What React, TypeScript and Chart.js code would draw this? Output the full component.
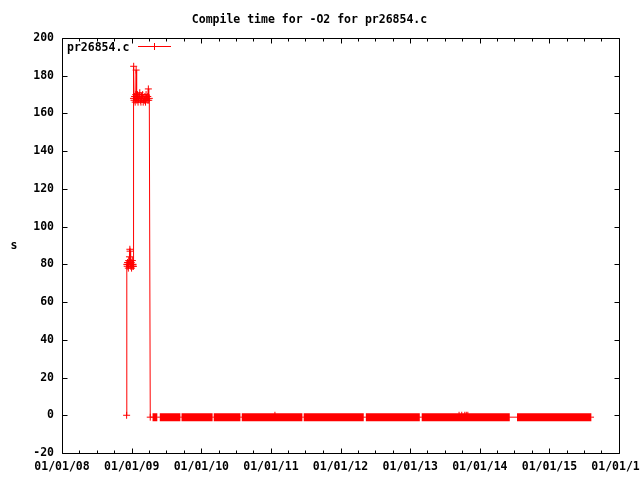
import { useEffect, useRef } from 'react';
import { Chart, registerables } from 'chart.js';

Chart.register(...registerables);

const FONT_FAMILY = '"DejaVu Sans Mono", monospace';
const FONT_SIZE = 11.5;
const RED = '#ff0000';

const chartTitle = 'Compile time for -O2 for pr26854.c';
const seriesLabel = 'pr26854.c';
const yAxisLabel = 's';

const xTickDates = ['2008-01-01', '2009-01-01', '2010-01-01', '2011-01-01', '2012-01-01', '2013-01-01', '2014-01-01', '2015-01-01', '2016-01-01'];
const xTickLabels = ['01/01/08', '01/01/09', '01/01/10', '01/01/11', '01/01/12', '01/01/13', '01/01/14', '01/01/15', '01/01/16'];
const yTickValues = [-20, 0, 20, 40, 60, 80, 100, 120, 140, 160, 180, 200];

// early measurements (late 2008 - spring 2009)
const earlyDates = [
  '2008-12-05', '2008-12-06', '2008-12-08', '2008-12-10', '2008-12-12', '2008-12-14', '2008-12-16', '2008-12-18',
  '2008-12-20', '2008-12-22', '2008-12-23', '2008-12-25', '2008-12-27', '2008-12-29', '2008-12-31', '2009-01-02',
  '2009-01-04', '2009-01-06', '2009-01-08', '2009-01-10', '2009-01-10', '2009-01-11', '2009-01-13', '2009-01-16',
  '2009-01-19', '2009-01-22', '2009-01-24', '2009-01-25', '2009-01-28', '2009-01-31', '2009-02-03', '2009-02-06',
  '2009-02-09', '2009-02-12', '2009-02-15', '2009-02-18', '2009-02-21', '2009-02-24', '2009-02-27', '2009-03-02',
  '2009-03-05', '2009-03-08', '2009-03-11', '2009-03-14', '2009-03-17', '2009-03-20', '2009-03-23', '2009-03-26',
  '2009-03-29', '2009-03-31', '2009-04-03', '2009-04-08',
];
const earlyValues = [
  0, 80, 79, 81, 80, 78, 82, 80,
  84, 88, 87, 80, 79, 81, 78, 80,
  82, 79, 80, 79, 168, 185, 167, 169,
  166, 170, 183, 168, 167, 170, 166, 169,
  168, 171, 167, 166, 169, 168, 170, 166,
  168, 167, 169, 166, 170, 168, 167, 169,
  173, 167, 168, -1,
];

// dense daily runs (drawn as a solid band)
const runStartDates = ['2009-04-20', '2009-05-28', '2009-09-19', '2010-03-07', '2010-08-01', '2011-06-22', '2012-05-13', '2013-03-02', '2014-07-15'];
const runEndDates = ['2009-05-15', '2009-09-13', '2010-03-01', '2010-07-25', '2011-06-15', '2012-05-02', '2013-02-20', '2014-06-07', '2015-08-09'];
const runValues = [-1, -1, -1, -1, -1, -1, -1, -1, -1];

// isolated points that stand out of the band
const spikeDates = ['2011-01-22', '2013-09-14', '2013-09-28', '2013-10-14', '2013-10-22', '2013-10-30'];
const spikeValues = [0, 0, 0, 0, 0, 0];

const lastDates = ['2015-08-23'];
const lastValues = [-1];

const toMs = (s: string) => {
  const [y, m, dd] = s.split('-').map(Number);
  return Date.UTC(y, m - 1, dd);
};

type Pt = { x: number; y: number | null };

function buildMain() {
  const pts: Pt[] = [];
  const radii: number[] = [];
  earlyDates.forEach((s, i) => {
    pts.push({ x: toMs(s), y: earlyValues[i] });
    radii.push(3.5);
  });
  runStartDates.forEach((s, i) => {
    const a = toMs(s);
    const b = toMs(runEndDates[i]);
    pts.push({ x: a, y: runValues[i] });
    radii.push(0);
    spikeDates.forEach((sd, j) => {
      const t = toMs(sd);
      if (t > a && t < b) {
        pts.push({ x: t, y: spikeValues[j] });
        radii.push(3.5);
      }
    });
    pts.push({ x: b, y: runValues[i] });
    radii.push(0);
  });
  lastDates.forEach((s, i) => {
    pts.push({ x: toMs(s), y: lastValues[i] });
    radii.push(0);
  });
  return { pts, radii };
}

function buildBand() {
  const pts: Pt[] = [];
  runStartDates.forEach((s, i) => {
    const a = toMs(s);
    const b = toMs(runEndDates[i]);
    pts.push({ x: a, y: runValues[i] });
    pts.push({ x: b, y: runValues[i] });
    pts.push({ x: b + 1, y: null });
  });
  return pts;
}

const font = { family: FONT_FAMILY, size: FONT_SIZE, weight: 'bold' as const };

const framePlugin = {
  id: 'gnuFrame',
  afterDraw(chart: any) {
    const { ctx, chartArea: a, scales } = chart;
    const xs = scales.x;
    const ys = scales.y;
    const L = Math.round(a.left) + 0.5;
    const R = Math.round(a.right) + 0.5;
    const T = Math.round(a.top) + 0.5;
    const B = Math.round(a.bottom) + 0.5;
    ctx.save();
    ctx.strokeStyle = '#000';
    ctx.lineWidth = 1;
    ctx.beginPath();
    ctx.rect(L, T, R - L, B - T);
    // y ticks (inward, mirrored)
    yTickValues.forEach((v) => {
      const p = Math.round(ys.getPixelForValue(v)) + 0.5;
      ctx.moveTo(L, p); ctx.lineTo(L + 5, p);
      ctx.moveTo(R, p); ctx.lineTo(R - 5, p);
    });
    // x major ticks
    xTickDates.forEach((s) => {
      const p = Math.round(xs.getPixelForValue(toMs(s))) + 0.5;
      ctx.moveTo(p, B); ctx.lineTo(p, B - 5);
      ctx.moveTo(p, T); ctx.lineTo(p, T + 5);
    });
    // x minor ticks (quarters)
    for (let yr = 2008; yr < 2016; yr++) {
      [3, 6, 9].forEach((m) => {
        const p = Math.round(xs.getPixelForValue(Date.UTC(yr, m, 1))) + 0.5;
        ctx.moveTo(p, B); ctx.lineTo(p, B - 3);
        ctx.moveTo(p, T); ctx.lineTo(p, T + 3);
      });
    }
    ctx.stroke();

    // key (top-left, inside)
    ctx.fillStyle = '#000';
    ctx.font = `bold ${FONT_SIZE}px ${FONT_FAMILY}`;
    ctx.textAlign = 'left';
    ctx.textBaseline = 'middle';
    ctx.fillText(chart.data.datasets[0].label, a.left + 5, a.top + 10);
    ctx.strokeStyle = RED;
    ctx.beginPath();
    ctx.moveTo(a.left + 76, a.top + 8.5);
    ctx.lineTo(a.left + 109, a.top + 8.5);
    ctx.moveTo(a.left + 92.5, a.top + 5);
    ctx.lineTo(a.left + 92.5, a.top + 12);
    ctx.stroke();

    // y axis label (unrotated)
    ctx.fillStyle = '#000';
    ctx.textAlign = 'center';
    ctx.fillText(yAxisLabel, 14, (a.top + a.bottom) / 2 + 0.5);
    ctx.restore();
  },
};

export default function App() {
  const ref = useRef<HTMLCanvasElement | null>(null);
  useEffect(() => {
    if (!ref.current) return;
    const main = buildMain();
    const chart = new Chart(ref.current, {
      type: 'line',
      data: {
        datasets: [
          {
            label: seriesLabel,
            data: main.pts as any,
            borderColor: RED,
            backgroundColor: RED,
            borderWidth: 1,
            pointStyle: 'cross',
            pointRadius: main.radii,
            pointHoverRadius: 0,
            pointBorderColor: RED,
            pointBorderWidth: 1,
            fill: false,
            tension: 0,
          },
          {
            label: 'band',
            data: buildBand() as any,
            borderColor: RED,
            borderWidth: 8,
            borderCapStyle: 'butt',
            pointRadius: 0,
            pointHoverRadius: 0,
            fill: false,
            spanGaps: false,
            tension: 0,
          },
        ],
      },
      options: {
        animation: false,
        responsive: false,
        events: [],
        layout: { padding: { left: 0, right: 21, top: 0, bottom: 0 } },
        plugins: {
          legend: { display: false },
          tooltip: { enabled: false },
          title: {
            display: true,
            text: chartTitle,
            color: '#000',
            font,
            padding: { top: 13, bottom: 11.2 },
          },
        },
        scales: {
          x: {
            type: 'linear',
            min: toMs(xTickDates[0]),
            max: toMs(xTickDates[xTickDates.length - 1]),
            afterBuildTicks: (scale: any) => {
              scale.ticks = xTickDates.map((s) => ({ value: toMs(s) }));
            },
            afterFit: (scale: any) => {
              scale.height = 27;
              scale.paddingLeft = 0;
              scale.paddingRight = 0;
            },
            ticks: {
              autoSkip: false,
              maxRotation: 0,
              minRotation: 0,
              color: '#000',
              font,
              padding: 7,
              callback: (_v: any, i: number) => xTickLabels[i],
            },
            grid: { display: false, drawTicks: false },
            border: { display: false },
          },
          y: {
            type: 'linear',
            min: yTickValues[0],
            max: yTickValues[yTickValues.length - 1],
            afterBuildTicks: (scale: any) => {
              scale.ticks = yTickValues.map((v) => ({ value: v }));
            },
            afterFit: (scale: any) => {
              scale.width = 62;
              scale.paddingTop = 0;
              scale.paddingBottom = 0;
            },
            ticks: {
              color: '#000',
              font,
              padding: 8,
              callback: (v: any) => String(v),
            },
            grid: { display: false, drawTicks: false },
            border: { display: false },
          },
        },
      },
      plugins: [framePlugin],
    });
    return () => chart.destroy();
  }, []);
  return (
    <div style={{ position: 'absolute', left: 0, top: 0, width: 640, height: 480, background: '#fff' }}>
      <canvas ref={ref} width={640} height={480} style={{ display: 'block' }} />
    </div>
  );
}
